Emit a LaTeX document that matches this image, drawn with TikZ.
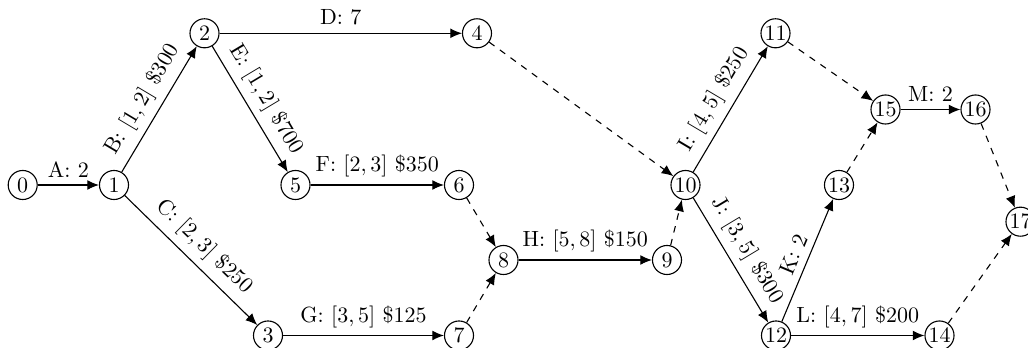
\documentclass[tikz,border=0pt]{standalone}
\usetikzlibrary{arrows.meta}
\begin{document}
\begin{tikzpicture}[x=0.4545pt,y=-0.4545pt,
  ev/.style={circle,draw,line width=0.5pt,minimum size=13.2pt,inner sep=0pt},
  act/.style={line width=0.5pt,-{Latex[length=5.3pt,width=4.5pt]}},
  dmy/.style={act,dashed},
  lbl/.style={above,sloped}]
\useasboundingbox (0,0) rectangle (1028,348);
\node[ev] (n0) at (22.7,185) {0};
\node[ev] (n1) at (114,185) {1};
\node[ev] (n2) at (204.5,33.3) {2};
\node[ev] (n3) at (268,335.5) {3};
\node[ev] (n4) at (477,33.3) {4};
\node[ev] (n5) at (295.5,185) {5};
\node[ev] (n6) at (459,185) {6};
\node[ev] (n7) at (459,335.5) {7};
\node[ev] (n8) at (503.5,260) {8};
\node[ev] (n9) at (667,260) {9};
\node[ev] (n10) at (685.5,185) {10};
\node[ev] (n11) at (775.5,33.3) {11};
\node[ev] (n12) at (776,335.5) {12};
\node[ev] (n13) at (839,185) {13};
\node[ev] (n14) at (939.5,335.5) {14};
\node[ev] (n15) at (885.5,109.5) {15};
\node[ev] (n16) at (975.5,109.5) {16};
\node[ev] (n17) at (1020.5,221.7) {17};
\draw[act] (n0) -- node[lbl]{A: 2} (n1);
\draw[act] (n1) -- node[lbl]{B: $[1,2]$ \$300} (n2);
\draw[act] (n1) -- node[lbl]{C: $[2,3]$ \$250} (n3);
\draw[act] (n2) -- node[lbl]{D: 7} (n4);
\draw[act] (n2) -- node[lbl]{E: $[1,2]$ \$700} (n5);
\draw[act] (n5) -- node[lbl]{F: $[2,3]$ \$350} (n6);
\draw[act] (n3) -- node[lbl]{G: $[3,5]$ \$125} (n7);
\draw[act] (n8) -- node[lbl]{H: $[5,8]$ \$150} (n9);
\draw[act] (n10) -- node[lbl]{I: $[4,5]$ \$250} (n11);
\draw[act] (n10) -- node[lbl]{J: $[3,5]$ \$300} (n12);
\draw[act] (n12) -- node[lbl]{K: 2} (n13);
\draw[act] (n12) -- node[lbl]{L: $[4,7]$ \$200} (n14);
\draw[act] (n15) -- node[lbl]{M: 2} (n16);
\draw[dmy] (n4) -- (n10);
\draw[dmy] (n6) -- (n8);
\draw[dmy] (n7) -- (n8);
\draw[dmy] (n9) -- (n10);
\draw[dmy] (n11) -- (n15);
\draw[dmy] (n13) -- (n15);
\draw[dmy] (n16) -- (n17);
\draw[dmy] (n14) -- (n17);
\end{tikzpicture}
\end{document}
